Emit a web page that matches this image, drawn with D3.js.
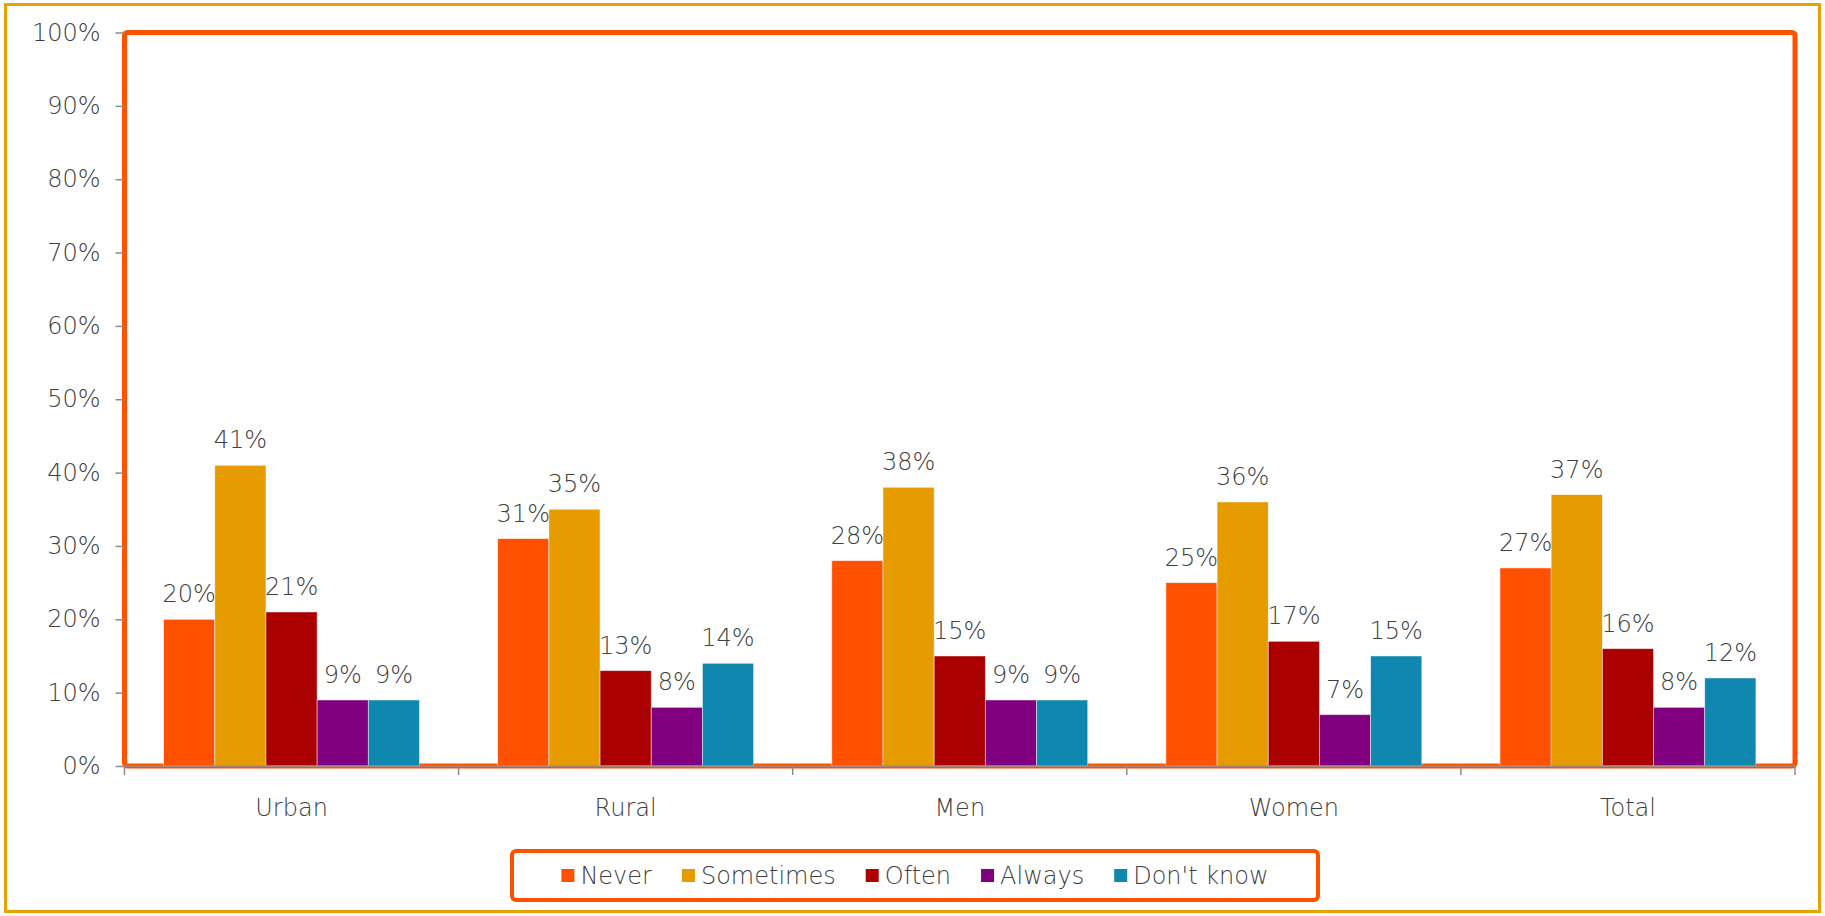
<!DOCTYPE html>
<html>
<head>
<meta charset="utf-8">
<script src="https://cdn.jsdelivr.net/npm/d3@7"></script>
<style>
  body { margin: 0; background: #fff; }
  svg text { font-family: "DejaVu Sans ExtraLight", "DejaVu Sans", sans-serif; font-weight: 200; fill: #404040; }
</style>
</head>
<body>
<div id="chart"></div>
<script>
const categories = ['Urban', 'Rural', 'Men', 'Women', 'Total'];
const series = ['Never', 'Sometimes', 'Often', 'Always', "Don't know"];
const colors = ['#ff5000', '#e69c00', '#aa0000', '#800080', '#1087ae'];
// values per series, in category order
const never = [20, 31, 28, 25, 27];
const sometimes = [41, 35, 38, 36, 37];
const often = [21, 13, 15, 17, 16];
const always = [9, 8, 9, 7, 8];
const dontKnow = [9, 14, 9, 15, 12];
const yTicks = [0, 10, 20, 30, 40, 50, 60, 70, 80, 90, 100];

const values = [never, sometimes, often, always, dontKnow];

const width = 1825, height = 916;
const plot = { left: 124.5, right: 1795, top: 32.5, bottom: 766 };

const svg = d3.select('#chart')
  .append('svg')
  .attr('width', width)
  .attr('height', height);

// outer frame
svg.append('rect')
  .attr('x', 5.5).attr('y', 4.5)
  .attr('width', width - 11).attr('height', height - 9)
  .attr('fill', '#fff')
  .attr('stroke', '#e8a200')
  .attr('stroke-width', 3);

const y = d3.scaleLinear()
  .domain([0, 100])
  .range([plot.bottom, plot.top]);

const x0 = d3.scaleBand()
  .domain(categories)
  .range([plot.left, plot.right]);

const pad = x0.bandwidth() * 0.117;
const x1 = d3.scaleBand()
  .domain(series)
  .range([pad, x0.bandwidth() - pad]);

const color = d3.scaleOrdinal()
  .domain(series)
  .range(colors);

// plot area border
svg.append('rect')
  .attr('x', plot.left).attr('y', plot.top)
  .attr('width', plot.right - plot.left)
  .attr('height', plot.bottom - plot.top)
  .attr('rx', 3)
  .attr('fill', 'none')
  .attr('stroke', '#ff5000')
  .attr('stroke-width', 5);

// y axis
const yAxis = svg.append('g')
  .attr('transform', `translate(${plot.left},0)`)
  .call(d3.axisLeft(y).tickValues(yTicks).tickFormat(d => d + '%').tickSize(9).tickPadding(15));
yAxis.select('.domain').remove();
yAxis.selectAll('.tick line').attr('stroke', '#8c8c8c').attr('stroke-width', 1.5);
yAxis.selectAll('.tick text')
  .attr('font-size', 24)
  .attr('fill', '#404040')
  .style('font-family', '"DejaVu Sans ExtraLight", "DejaVu Sans", sans-serif');

// bars
const rows = categories.map((c, i) => series.map((s, j) => ({ cat: c, key: s, value: values[j][i] })));

const group = svg.selectAll('.group')
  .data(rows)
  .enter().append('g')
  .attr('class', 'group')
  .attr('transform', (d, i) => `translate(${x0(categories[i])},0)`);

group.selectAll('rect')
  .data(d => d)
  .enter().append('rect')
  .attr('x', d => x1(d.key))
  .attr('y', d => y(d.value))
  .attr('width', x1.bandwidth())
  .attr('height', d => y(0) - y(d.value))
  .attr('fill', d => color(d.key))
  .attr('stroke', 'rgba(255,255,255,0.6)')
  .attr('stroke-width', 0.8);

group.selectAll('.label')
  .data(d => d)
  .enter().append('text')
  .attr('class', 'label')
  .attr('x', d => x1(d.key) + x1.bandwidth() / 2)
  .attr('y', d => y(d.value) - 17)
  .attr('text-anchor', 'middle')
  .attr('font-size', 24)
  .text(d => d.value + '%');

// x axis
const xAxis = svg.append('g')
  .attr('transform', `translate(0,${plot.bottom})`);
xAxis.append('line')
  .attr('x1', plot.left).attr('x2', plot.right)
  .attr('stroke', '#8c8c8c').attr('stroke-width', 1.5);
xAxis.selectAll('.xtick')
  .data(d3.range(categories.length + 1))
  .enter().append('line')
  .attr('x1', i => plot.left + i * x0.step())
  .attr('x2', i => plot.left + i * x0.step())
  .attr('y1', 0).attr('y2', 9)
  .attr('stroke', '#8c8c8c').attr('stroke-width', 1.5);
xAxis.selectAll('.xlabel')
  .data(categories)
  .enter().append('text')
  .attr('x', d => x0(d) + x0.bandwidth() / 2)
  .attr('y', 50)
  .attr('text-anchor', 'middle')
  .attr('font-size', 24)
  .text(d => d);

// legend
const legendBox = { x: 512, y: 851, w: 806, h: 49 };
svg.append('rect')
  .attr('x', legendBox.x).attr('y', legendBox.y)
  .attr('width', legendBox.w).attr('height', legendBox.h)
  .attr('rx', 4)
  .attr('fill', '#fff')
  .attr('stroke', '#ff5000')
  .attr('stroke-width', 4);

const legend = svg.append('g');
const items = legend.selectAll('.item')
  .data(series)
  .enter().append('g')
  .attr('class', 'item');
items.append('rect')
  .attr('width', 13).attr('height', 13)
  .attr('y', legendBox.y + legendBox.h / 2 - 6.5)
  .attr('fill', d => color(d));
items.append('text')
  .attr('x', 19)
  .attr('y', legendBox.y + legendBox.h / 2 + 8.5)
  .attr('font-size', 24)
  .text(d => d);

const gap = 30;
const widths = items.nodes().map(n => 19 + d3.select(n).select('text').node().getComputedTextLength());
const total = d3.sum(widths) + gap * (widths.length - 1);
let cx = legendBox.x + (legendBox.w - total) / 2;
items.attr('transform', (d, i) => {
  const t = `translate(${cx},0)`;
  cx += widths[i] + gap;
  return t;
});
</script>
</body>
</html>
